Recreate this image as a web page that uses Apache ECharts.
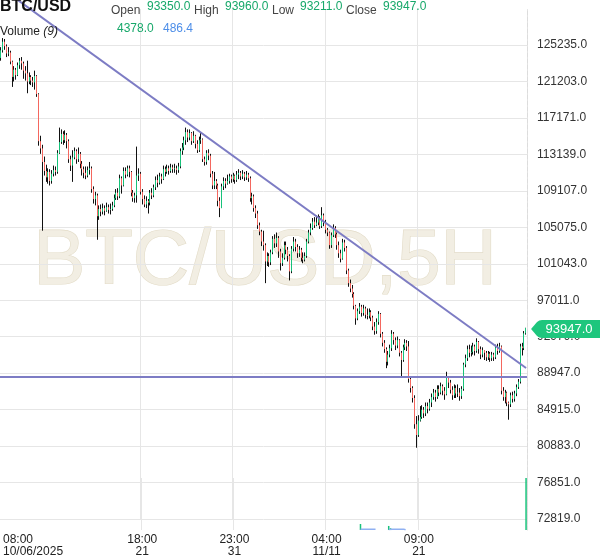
<!DOCTYPE html>
<html><head><meta charset="utf-8">
<script src="https://cdn.jsdelivr.net/npm/echarts@6/dist/echarts.min.js"></script>
<style>html,body{margin:0;padding:0;background:#fff}#c{width:600px;height:558px}</style>
</head><body><div id="c"></div>
<script>
const firstOpen = 123800;
const closes = [
124650,125600,125100,124300,
124400,123400,121700,122500,121900,123000,123500,
123200,122400,122100,121200,121700,121300,121100,
121800,119800,114600,113800,112300,111300,
110600,111200,110200,111000,111400,111200,113300,
114500,115400,114700,115300,114600,112600,111900,
112800,113500,112600,113200,112100,111500,111100,
110800,111400,111600,109300,108200,108600,
106300,107100,106800,107200,106900,107300,107000,
107100,107500,108300,108900,108500,110500,109700,
111300,110900,111600,111200,108900,108300,108600,
110800,111000,109000,108200,107600,108000,
107800,108900,108600,109500,110300,110000,110700,110400,
111500,111200,111600,111300,111700,111500,
111600,111400,111800,113500,113900,114700,
115600,115000,115500,114600,115200,114300,113600,114700,
114800,112600,112300,113300,113000,111000,109700,
110200,109700,108000,107200,109600,110200,109900,
110200,110700,110400,110800,110300,110900,
111100,110700,111000,110600,110900,110500,108300,
108500,107200,106600,105300,104600,103500,103100,
101300,101900,101200,102300,103800,103300,103900,
102400,101100,101700,103100,102600,101900,
100200,102700,103500,102900,102200,102600,101700,
101500,101900,103500,104500,105000,105700,105300,
105600,106100,105200,106400,105600,104800,104500,
103100,104200,105000,104300,103100,102200,101600,
103400,102800,100300,98900,98300,97700,96400,
95000,95800,96300,95600,96100,95400,
95300,95700,95100,94100,93600,94600,95500,
93300,92300,91600,90200,91000,91700,
93300,92600,92000,92600,91200,90400,91800,92300,
91900,88300,87300,86200,83300,82100,83700,
84100,84900,84500,85300,85000,85700,
86300,86800,86300,87200,86800,87500,87000,
86600,88400,87900,87100,86500,87300,86700,
86800,86400,87200,89900,90600,91600,91200,
91300,91900,91400,92400,91600,91000,91500,
91200,90700,91100,90600,91000,90700,
91800,91400,91900,87000,86300,86800,85700,
85500,86500,86100,86700,87400,88000,91900,
91700,93350,93947];
const highs = [
125000,126000,125900,125300,
125000,124600,123500,122900,122700,123300,123800,
123900,123400,122900,123500,122200,121900,121700,
122400,121900,119900,115200,114200,112900,
112000,111600,111500,111400,111900,111800,113600,
116100,115900,115700,115800,115500,114800,113000,
113600,113900,113700,113900,113400,112400,111800,
111800,111800,112300,111800,109600,109000,
108800,107500,107600,107700,107500,107800,107600,
107700,107900,108700,109300,109400,110900,110700,
111700,111700,111900,111900,111300,109200,108900,
114000,111600,111200,109300,108600,108500,
108200,109200,109400,109800,110700,110900,111100,111000,
111900,111800,112000,111900,112100,112000,
112100,111900,112200,113800,114400,115100,
116100,115900,115900,115600,115700,115300,114700,115100,
115600,114900,112900,113600,113700,113200,111300,
111200,110400,109900,108400,109900,110600,110500,
110900,111000,110900,111100,110900,111300,
111500,111300,111400,111200,111300,111100,110700,
108900,108700,107500,106900,105600,104800,104700,
103300,102300,102200,102600,104100,104300,104500,
104100,102700,102200,103500,103500,102900,
102100,103000,104000,103800,103200,103000,102800,
102300,102300,103800,104800,105500,106100,106200,
106400,106500,106300,107300,106600,105900,105000,
104600,104500,105400,105200,104500,103500,102600,
103800,103700,103000,100500,99300,98700,97900,
96500,96100,96700,96500,96500,96300,
96100,96100,95900,95300,94600,95000,95800,
95600,93500,92600,91800,91400,92100,
93700,93500,92900,93000,92700,91400,92100,92700,
92600,92500,88500,87500,86500,84200,84300,
85300,85400,85200,85700,85700,86100,
86700,87200,87100,87600,87600,87900,87700,
87400,89100,88600,88200,87500,87700,87600,
87700,87300,87500,90100,91000,92000,92100,
92000,92300,92100,92800,92500,91900,91800,
91500,91400,91400,91300,91300,91200,
92100,92200,92300,92000,87400,87100,86900,
85800,86800,86900,87000,87700,88300,92200,
92300,93600,93960];
const lows = [
123500,124400,124700,123900,
124000,123100,120600,121200,121400,121800,122600,
122500,121500,121300,119900,120900,120800,120600,
120300,119500,114100,113200,104700,110800,
110100,109900,109700,109900,110700,110800,111000,
113200,114300,114200,114400,113800,112200,111300,
110100,112600,112100,112300,111600,110800,110500,
110400,110600,110900,108900,107700,107500,
103700,105900,106300,106500,106400,106800,106600,
106500,106900,107300,108100,108100,108300,108800,
109600,110500,110700,110600,108500,107900,107800,
107800,110200,108700,107600,107300,107200,
106600,107500,108200,108400,109200,109500,109800,109900,
110300,110700,111000,110900,111100,111100,
111100,110900,111100,111600,113100,113600,
114200,114500,114700,114200,114400,113800,113300,113400,
114300,112300,111900,112000,112500,110600,109300,
109300,109300,107400,106200,107300,109200,109400,
109800,109900,110000,110100,109900,110100,
110400,110300,110400,110200,110300,110100,107900,
107600,106800,106100,104900,104200,103000,102500,
98900,100800,100700,100900,102100,102800,102900,
101700,100300,100800,101500,102100,101300,
99200,100000,102400,102400,101700,101800,101300,
101100,101300,101700,103300,104200,104800,105000,
105200,105300,104900,105000,105200,104400,104100,
102700,102800,104000,103900,102600,101700,101200,
101500,102400,99900,98500,97900,97300,96000,
94300,94800,95500,95200,95300,95000,
94900,95000,94700,93700,93200,93300,94300,
92900,91900,91200,89500,89800,90700,
91400,92100,91500,91700,90800,88500,90200,91500,
91400,87900,86800,85700,82800,80700,81900,
83600,83900,84000,84200,84500,84800,
85200,86000,85800,86100,86400,86600,86500,
86000,86500,87300,86700,86000,86200,86200,
86300,85900,86100,87000,89600,90300,90700,
90800,91000,90900,91200,91100,90500,90700,
90400,90300,90400,90200,90300,90300,
90500,91000,91200,86600,85900,85600,85300,
83800,85200,85700,85800,86400,87200,87800,
90900,91500,93211];
const tickIndex = [0, 74, 123, 172, 221];
const tickLabels = ['08:00\n10/06/2025', '18:00\n21', '23:00\n31', '04:00\n11/11', '09:00\n21'];
const priceTickMin = 72819, priceTickStep = 4032;
const volIdx = [190, 205, 206, 278];
const volVal = [505, 340, 150, 4378];
const maPeriod = 9;
const trendStart = [9, 130195], trendEnd = [278, 89518];
const supportLevel = 88522;

const N = closes.length;
const cats = closes.map((c, i) => String(i));
const opens = closes.map((c, i) => i === 0 ? firstOpen : closes[i - 1]);
const full = closes.map((c, i) => { const o = opens[i]; return [o, c, Math.min(lows[i], o, c), Math.max(highs[i], o, c)]; });
const bodies = closes.map((c, i) => { const o = opens[i]; return [o, c, Math.min(o, c), Math.max(o, c)]; });
const vols = new Array(N).fill(null);
volIdx.forEach((j, k) => { vols[j] = volVal[k]; });
const ma = vols.map((v, i) => { if (i < maPeriod - 1) return null; let s = 0; for (let k = i - maPeriod + 1; k <= i; k++) s += vols[k] || 0; return s > 0 ? +(s / maPeriod).toFixed(1) : null; });
const trendData = new Array(N).fill(null);
trendData[trendStart[0]] = trendStart[1];
trendData[trendEnd[0]] = trendEnd[1];

const GREEN = '#17c27a', RED = '#f4675f', TGREEN = '#17a86a', BLUE = '#4d8ee8', FONT = 'Liberation Sans, Arial, sans-serif';
const GRID = '#e6e6e6';
const L = N - 1;
const volBars = vols.map((v, i) => v == null ? null : { value: v, itemStyle: { color: closes[i] >= opens[i] ? GREEN : RED } });
const isTick = (i) => tickIndex.indexOf(i) >= 0;
const isGridTick = (i) => i > 0 && tickIndex.indexOf(i) >= 0;

const chart = echarts.init(document.getElementById('c'), null, { renderer: 'canvas' });
const T = (text, x, y, size, fill, extra) => ({ type: 'text', x: x, y: y, z: 100, silent: true, style: Object.assign({ text: text, fontSize: size, fontFamily: FONT, fill: fill, verticalAlign: 'top' }, extra || {}) });
chart.setOption({
  animation: false,
  textStyle: { fontFamily: FONT },
  grid: [
    { left: 0, right: 73, top: 9, bottom: 39 },
    { left: 0, right: 73, top: 478, bottom: 28 }
  ],
  xAxis: [
    { type: 'category', gridIndex: 0, data: cats, boundaryGap: true, axisLine: { show: false }, axisTick: { show: false }, axisLabel: { show: false },
      splitLine: { show: true, interval: isGridTick, lineStyle: { color: GRID } } },
    { type: 'category', gridIndex: 1, data: cats, boundaryGap: true, axisLine: { show: false }, axisTick: { show: false },
      axisLabel: { show: true, interval: isTick, formatter: (v, i) => tickLabels[tickIndex.indexOf(i)], color: '#222', fontSize: 12, lineHeight: 12, margin: 4, alignMinLabel: 'left', fontFamily: FONT },
      splitLine: { show: true, interval: isGridTick, lineStyle: { color: GRID } } }
  ],
  yAxis: [
    { type: 'value', gridIndex: 0, position: 'right', min: priceTickMin, max: 129216, interval: priceTickStep,
      axisLine: { show: true, lineStyle: { color: '#dcdcdc', type: 'dashed' } }, axisTick: { show: false },
      axisLabel: { color: '#333', fontSize: 12, margin: 10, showMaxLabel: false, formatter: v => v.toFixed(1), fontFamily: FONT },
      splitLine: { show: true, showMaxLine: false, lineStyle: { color: GRID } } },
    { type: 'value', gridIndex: 1, position: 'right', min: 0, max: 4378, axisLabel: { show: false }, axisTick: { show: false },
      splitLine: { show: false }, axisLine: { show: true, lineStyle: { color: '#dcdcdc', type: 'dashed' } } }
  ],
  graphic: [
    { type: 'text', x: 265, y: 262, z: -10, silent: true, style: { text: 'BTC/USD,5H', fontSize: 78, fontFamily: FONT, fill: '#f2eee3', stroke: '#e2dbc7', lineWidth: 1.2, align: 'center', verticalAlign: 'middle' } },
    T('BTC/USD', 0, -1, 16, '#111', { fontWeight: 'bold' }),
    T('Open', 111, 5, 12, '#444'), T(opens[L].toFixed(1), 147, 1, 12, TGREEN),
    T('High', 194, 5, 12, '#444'), T(full[L][3].toFixed(1), 225, 1, 12, TGREEN),
    T('Low', 272, 5, 12, '#444'), T(full[L][2].toFixed(1), 300, 1, 12, TGREEN),
    T('Close', 346, 5, 12, '#444'), T(closes[L].toFixed(1), 383, 1, 12, TGREEN),
    T('Volume {i|(' + maPeriod + ')}', 0, 26, 12, '#222', { rich: { i: { fontStyle: 'italic', fontSize: 12, fontFamily: FONT, fill: '#222' } } }),
    T(vols[L].toFixed(1), 117, 23, 12, TGREEN),
    T(ma[L].toFixed(1), 163, 23, 12, BLUE)
  ],
  series: [
    { type: 'candlestick', xAxisIndex: 0, yAxisIndex: 0, data: full, barWidth: 1, z: 2,
      itemStyle: { color: '#111', color0: '#111', borderColor: '#111', borderColor0: '#111', borderWidth: 1 },
      markLine: { silent: true, animation: false, symbol: ['none', 'none'], label: { show: false },
        lineStyle: { color: '#7d7cc4', width: 2, type: 'solid' }, data: [{ yAxis: supportLevel }] } },
    { type: 'candlestick', xAxisIndex: 0, yAxisIndex: 0, data: bodies, barWidth: 1, z: 3,
      itemStyle: { color: GREEN, color0: RED, borderColor: GREEN, borderColor0: RED, borderWidth: 1 },
      markPoint: { silent: true, animation: false, symbol: 'path://M0,9 L6,2 Q8,0 11,0 L70,0 L70,18 L11,18 Q8,18 6,16 Z', symbolSize: [70, 18], symbolOffset: [40, 1],
        itemStyle: { color: '#1ec67d' },
        label: { show: true, position: 'inside', offset: [3, 0], color: '#fff', fontSize: 13, fontFamily: FONT, formatter: p => (+p.value).toFixed(1) },
        data: [{ coord: [L, closes[L]], value: closes[L] }] } },
    { type: 'line', xAxisIndex: 0, yAxisIndex: 0, data: trendData, connectNulls: true, clip: false, symbol: 'none', z: 4,
      lineStyle: { color: '#7d7cc4', width: 2 } },
    { type: 'bar', xAxisIndex: 1, yAxisIndex: 1, data: volBars, barWidth: 1.5, z: 2 },
    { type: 'line', xAxisIndex: 1, yAxisIndex: 1, data: ma, symbol: 'none', z: 3, lineStyle: { color: '#8fb0f2', width: 1.5 } }
  ]
});
</script></body></html>
